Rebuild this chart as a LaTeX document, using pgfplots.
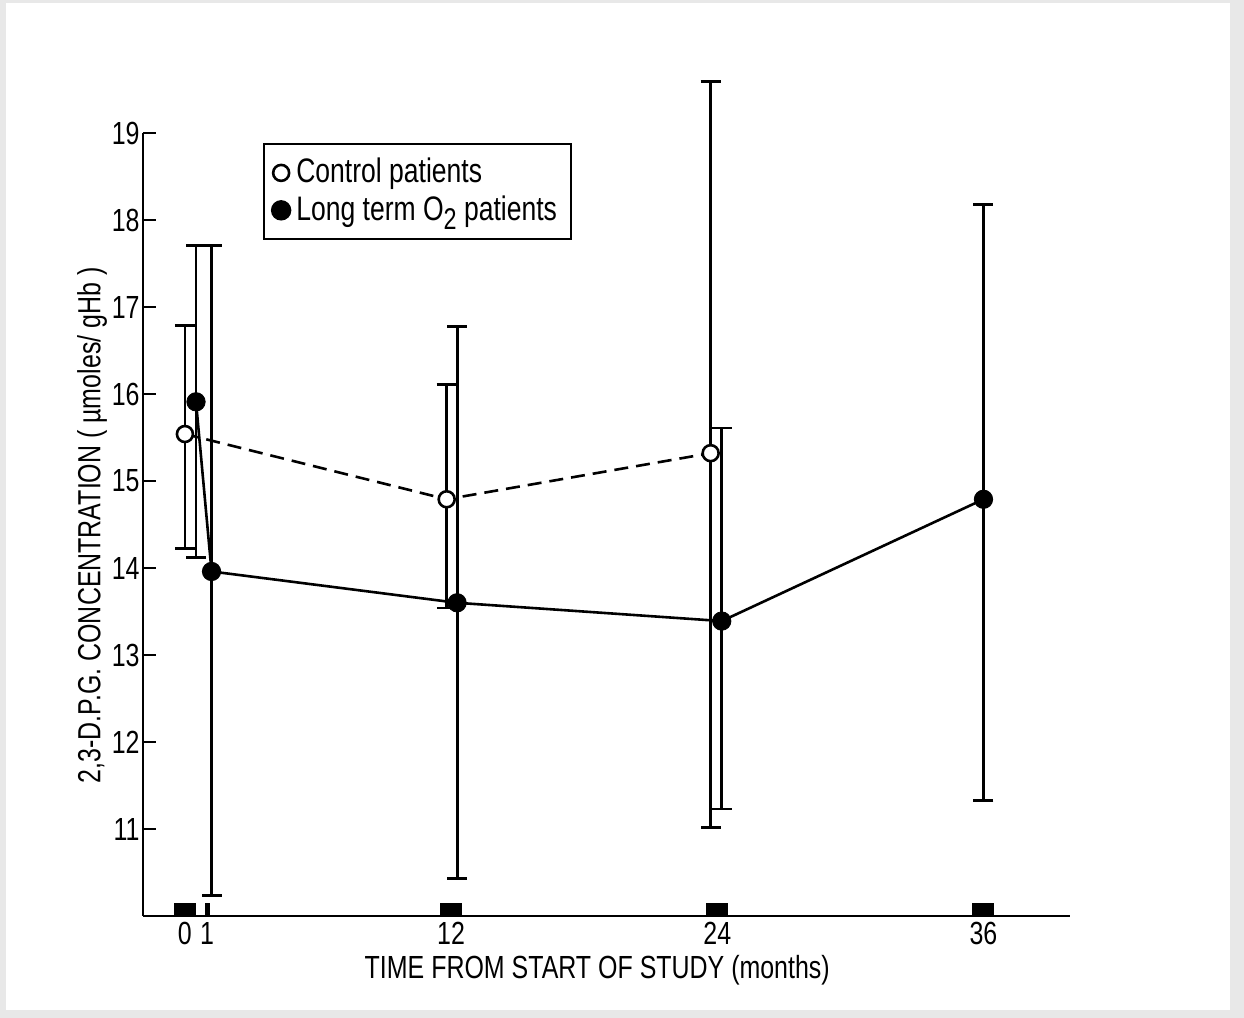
\documentclass[border=0pt]{standalone}
\usepackage{fontspec}
\setmainfont{Liberation Sans}[FakeStretch=0.78]
\usepackage{pgfplots}
\pgfplotsset{compat=1.18}
\begin{document}
\fontsize{16}{19}\selectfont
\begin{tikzpicture}
\useasboundingbox (-71.5pt,-51pt) rectangle (550.5pt,458pt);
\fill[black!9] (-71.5pt,-51pt) rectangle (550.5pt,458pt);
\fill[white] (-68.5pt,-47pt) rectangle (543.5pt,456.5pt);
\begin{axis}[
  at={(0,0)}, anchor=south west,
  scale only axis,
  width=463.5pt, height=391.5pt,
  xmin=-1.89, xmax=39.9,
  ymin=10, ymax=19,
  axis lines=left,
  axis line style={line width=1.4pt, -},
  clip=false,
  /pgf/number format/assume math mode=true,
  tick align=inside,
  major tick length=6.5pt,
  xtick={0,12,24,36},
  x tick style={line width=11pt, black},
  extra x ticks={1},
  extra x tick labels={1},
  extra x tick style={x tick style={line width=2.5pt}},
  ytick={11,12,...,19},
  y tick style={line width=1.4pt, black},
  yticklabel style={inner sep=0pt, anchor=east, xshift=-1.5pt},
  xticklabel style={inner sep=0pt, anchor=north, yshift=-3pt},
  xlabel={TIME FROM START OF STUDY (months)},
  xlabel style={at={(axis description cs:0.49,0)}, anchor=north, inner sep=0pt, yshift=-19.5pt},
  ylabel={2,3-D.P.G. CONCENTRATION ( µmoles/ gHb )},
  ylabel style={at={(axis description cs:-0.055,0.499)}, anchor=center},
  legend style={at={(axis description cs:0.1294,0.987)}, anchor=north west,
    draw=black, line width=1pt, row sep=0pt, inner xsep=4pt, inner ysep=5pt,
    font=\fontsize{17}{19}\selectfont,
    nodes={inner ysep=2pt, inner xsep=3pt}},
  legend cell align=left,
  legend image code/.code={\draw[#1] plot coordinates {(0.15cm,0cm)};},
]
% connecting lines
\addplot[forget plot, line width=1.3pt, dash pattern=on 7pt off 4pt] coordinates {
  (0,15.54) (11.8,14.79) (23.7,15.32)};
\addplot[forget plot, line width=1.3pt] coordinates {
  (0.5,15.91) (1.2,13.96) (12.27,13.60) (24.2,13.39) (36.0,14.79)};
% control patients
\addplot[only marks, mark=*, mark size=4pt,
  mark options={fill=white, draw=black, line width=1.3pt},
  error bars/.cd, y dir=both, y explicit,
  error bar style={line width=1.4pt, black},
  error mark options={rotate=90, mark size=5pt, line width=1.4pt, black}]
  coordinates {
  (0,15.54) += (0,1.25) -= (0,1.32)
  (11.8,14.79) += (0,1.32) -= (0,1.25)
  (23.7,15.32) += (0,4.27) -= (0,4.30)
};
\addlegendentry{Control patients}
% long term O2 patients
\addplot[only marks, mark=*, mark size=4.6pt,
  mark options={fill=black, draw=black},
  error bars/.cd, y dir=both, y explicit,
  error bar style={line width=1.4pt, black},
  error mark options={rotate=90, mark size=5pt, line width=1.4pt, black}]
  coordinates {
  (0.5,15.91) += (0,1.80) -= (0,1.79)
  (1.2,13.96) += (0,3.75) -= (0,3.72)
  (12.27,13.60) += (0,3.18) -= (0,3.17)
  (24.2,13.39) += (0,2.22) -= (0,2.16)
  (36.0,14.79) += (0,3.39) -= (0,3.46)
};
\addlegendentry{Long term O\raisebox{-0.5ex}{\fontsize{15}{15}\selectfont 2} patients}
\end{axis}
\end{tikzpicture}
\end{document}
